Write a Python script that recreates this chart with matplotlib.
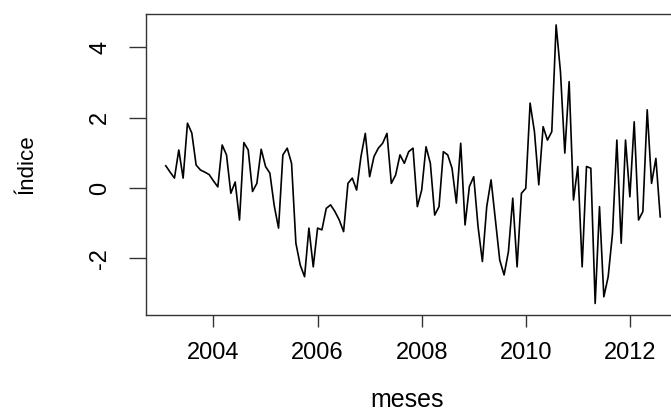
import numpy as np
import matplotlib
matplotlib.use("Agg")
import matplotlib.pyplot as plt

# monthly index, starting Feb 2003 (ts with frequency 12)
start_year = 2003
start_month = 2
indice = [
    0.63, 0.45, 0.28, 1.08, 0.28, 1.84, 1.56, 0.65, 0.51, 0.45, 0.38, 0.20,
    0.03, 1.22, 0.94, -0.15, 0.17, -0.91, 1.29, 1.08, -0.10, 0.13, 1.10, 0.61,
    0.42, -0.50, -1.14, 0.94, 1.13, 0.70, -1.57, -2.19, -2.52, -1.14, -2.24, -1.14,
    -1.19, -0.58, -0.48, -0.67, -0.91, -1.24, 0.13, 0.28, -0.06, 0.89, 1.55, 0.32,
    0.89, 1.13, 1.27, 1.55, 0.13, 0.37, 0.94, 0.70, 1.03, 1.13, -0.53, -0.06,
    1.17, 0.70, -0.77, -0.53, 1.03, 0.94, 0.56, -0.43, 1.27, -1.05, 0.04, 0.32,
    -1.10, -2.09, -0.53, 0.23, -0.91, -2.05, -2.47, -1.81, -0.29, -2.24, -0.15, -0.01,
    2.41, 1.60, 0.09, 1.74, 1.36, 1.60, 4.63, 3.30, 0.99, 3.02, -0.34, 0.61,
    -2.24, 0.61, 0.56, -3.28, -0.53, -3.09, -2.52, -1.29, 1.36, -1.57, 1.36, -0.25,
    1.88, -0.91, -0.67, 2.22, 0.13, 0.84, -0.82,
]
x_ticks = [2004, 2006, 2008, 2010, 2012]
y_ticks = [-2, 0, 2, 4]

plt.rcParams['font.family'] = ['Liberation Sans', 'DejaVu Sans']

y = np.array(indice)
t = start_year + (start_month - 1 + np.arange(len(y))) / 12

fig = plt.figure(figsize=(6.71, 4.12), dpi=100)
W, H = 671, 412
ax = fig.add_axes([146 / W, 1 - 314.6 / H, 534 / W, 300.8 / H])

ax.plot(t, y, color='black', linewidth=1.2)

# R-style 4% padding
rx = t[-1] - t[0]
ry = y.max() - y.min()
ax.set_xlim(t[0] - 0.04 * rx, t[-1] + 0.04 * rx)
ax.set_ylim(y.min() - 0.04 * ry, y.max() + 0.04 * ry)

ax.set_xticks(x_ticks)
ax.set_xticklabels([str(v) for v in x_ticks], fontsize=17)
ax.set_yticks(y_ticks)
ax.set_yticklabels([str(v) for v in y_ticks], fontsize=17, rotation=90, va='center')

ax.tick_params(axis='x', length=8.6, width=1, color='#333333', pad=11)
ax.tick_params(axis='y', length=12, width=1, color='#333333', pad=13)
for s in ax.spines.values():
    s.set_color('#333333')
    s.set_linewidth(1)

ax.set_xlabel('meses', fontsize=18)
ax.xaxis.set_label_coords((407 - 146) / 534, -(388 - 314.6) / 300.8, transform=ax.transAxes)
ax.xaxis.label.set_va('top')
ax.set_ylabel('Índice', fontsize=16)
ax.yaxis.set_label_coords(-(146 - 38) / 534, 0.5)

fig.savefig('out.png', dpi=100)
